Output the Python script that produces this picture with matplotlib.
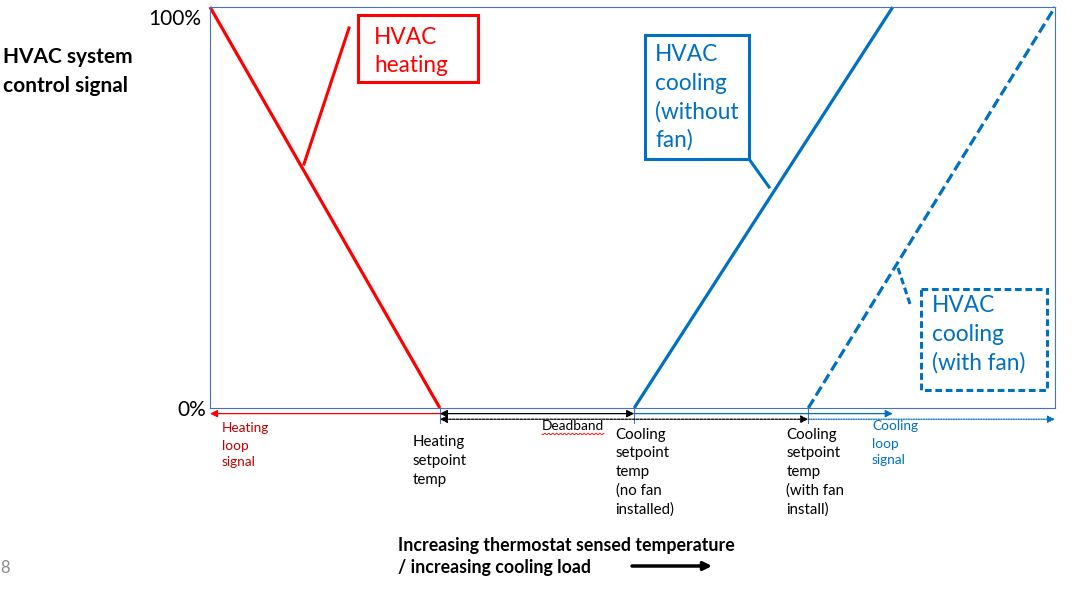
import numpy as np
import matplotlib
matplotlib.use("Agg")
import matplotlib.pyplot as plt
from matplotlib.patches import Rectangle

plt.rcParams["font.family"] = ["Lato", "DejaVu Sans"]

# x axis: thermostat temperature (relative units, 0..100 across the plot box)
# y axis: HVAC system control signal (%)
heat_x = [0.0, 27.2]
heat_y = [100, 0]
cool_nofan_x = [50.2, 80.8]
cool_nofan_y = [0, 100]
cool_fan_x = [70.8, 100.0]
cool_fan_y = [0, 100]

heat_sp = heat_x[1]
cool_sp_nofan = cool_nofan_x[0]
cool_sp_fan = cool_fan_x[0]

RED = "#ff0000"
DARKRED = "#c00000"
BLUE = "#0070c0"
BOX = "#4472c4"

W, H = 1074, 589
fig = plt.figure(figsize=(W / 100, H / 100), dpi=100)

ax = fig.add_axes([210 / W, 1 - 408 / H, 845 / W, 401 / H])
ax.set_xlim(0, 100)
ax.set_ylim(0, 100)
ax.set_xticks([])
ax.set_yticks([])
for s in ax.spines.values():
    s.set_color(BOX)
    s.set_linewidth(0.8)

ax.plot(heat_x, heat_y, color=RED, lw=2.3, solid_capstyle="butt", clip_on=False)
ax.plot(cool_nofan_x, cool_nofan_y, color=BLUE, lw=2.3, solid_capstyle="butt", clip_on=False)
ax.plot(cool_fan_x, cool_fan_y, color=BLUE, lw=2.3, ls=(0, (3.2, 1.4)), clip_on=False)

# loop signal arrows under the axis
row1, row2 = -1.4, -2.8


def arrow(x0, x1, y, color, style="-|>", ls="-"):
    ax.annotate("", xy=(x1, y), xytext=(x0, y), xycoords="data",
                annotation_clip=False,
                arrowprops=dict(arrowstyle=style, color=color, lw=0.9, ls=ls,
                                mutation_scale=11, shrinkA=0, shrinkB=0))


arrow(heat_sp, heat_x[0], row1, RED)
arrow(heat_sp, cool_sp_nofan, row1, "black", style="<|-|>")
arrow(cool_sp_nofan, cool_nofan_x[1], row1, BLUE)
arrow(heat_sp, cool_sp_fan, row2, "black", style="<|-|>", ls=(0, (2, 1)))
arrow(cool_sp_fan, cool_fan_x[1], row2, BLUE, ls=(0, (1, 1)))

for sp in [heat_sp, cool_sp_nofan, cool_sp_fan]:
    ax.plot([sp, sp], [0, -3.7], color=BOX, lw=0.8, clip_on=False)

# overlay in pixel coordinates for the annotations
ov = fig.add_axes([0, 0, 1, 1], facecolor="none")
ov.set_xlim(0, W)
ov.set_ylim(H, 0)
ov.axis("off")


def lines_at(x, y0, lines, dy, **kw):
    for i, line in enumerate(lines):
        ov.text(x, y0 + i * dy, line, va="baseline", **kw)


# y labels
ov.text(201, 25, "100%", ha="right", va="baseline", fontsize=15)
ov.text(206, 416, "0%", ha="right", va="baseline", fontsize=15)
lines_at(3, 63, ["HVAC system", "control signal"], 29.5, fontsize=15, fontweight="bold")

# heating callout
ov.add_patch(Rectangle((357.5, 15), 120.5, 67, fill=False, ec=RED, lw=2.2))
ov.plot([349, 304], [28, 164], color=RED, lw=2.2)
lines_at(374, 43.5, ["HVAC", "heating"], 28.5, fontsize=16.3, color=RED)

# cooling without fan callout
ov.add_patch(Rectangle((645, 35), 104, 124, fill=False, ec=BLUE, lw=2.2))
ov.plot([749, 769], [159, 187], color=BLUE, lw=2.2)
lines_at(655, 61, ["HVAC", "cooling", "(without", "fan)"], 28.6, fontsize=16.3, color=BLUE)

# cooling with fan callout
ov.add_patch(Rectangle((921, 288.5), 125.5, 101, fill=False, ec=BLUE, lw=2.2,
                       ls=(0, (2.2, 1.2))))
ov.plot([898, 911], [268, 307], color=BLUE, lw=2.2, ls=(0, (2.2, 1.2)))
lines_at(932, 312, ["HVAC", "cooling", "(with fan)"], 29, fontsize=16.3, color=BLUE)

# x axis labels
lines_at(222, 432.5, ["Heating", "loop", "signal"], 17, fontsize=9.8, color=DARKRED)
lines_at(413, 446, ["Heating", "setpoint", "temp"], 18.8, fontsize=10.8)
ov.text(541.5, 430.5, "Deadband", va="baseline", fontsize=9.8)
sq = np.linspace(542, 604, 60)
ov.plot(sq, 434 + 0.9 * np.sin(sq * 1.6), color=RED, lw=0.6)
lines_at(615.5, 438.5, ["Cooling", "setpoint", "temp", "(no fan", "installed)"], 18.9, fontsize=10.8)
lines_at(786.5, 438.5, ["Cooling", "setpoint", "temp", "(with fan", "install)"], 18.9, fontsize=10.8)
lines_at(872, 430.5, ["Cooling", "loop", "signal"], 17, fontsize=9.8, color=BLUE)

# bottom caption
lines_at(398, 551, ["Increasing thermostat sensed temperature",
                    "/ increasing cooling load"], 21.5, fontsize=12.8, fontweight="bold")
ov.annotate("", xy=(712, 566), xytext=(632, 566),
            arrowprops=dict(arrowstyle="-|>", color="black", lw=2.5,
                            mutation_scale=12, shrinkA=0, shrinkB=0))
ov.text(0, 573, "8", va="baseline", fontsize=12, color="#8c8c8c")

fig.savefig("out.png", dpi=100)
